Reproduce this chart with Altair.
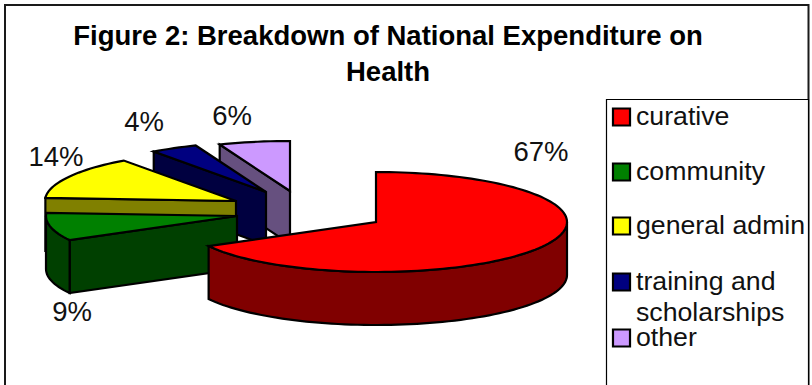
import math
import altair as alt

# Expenditure shares, in clockwise order from twelve o'clock
categories = ["curative", "community", "general admin", "training and\nscholarships", "other"]
shares = [67, 9, 14, 4, 6]
percent_labels = ["67%", "9%", "14%", "4%", "6%"]
top_colors = ["#FF0000", "#008000", "#FFFF00", "#000080", "#CC99FF"]
side_colors = ["#800000", "#004000", "#808000", "#000040", "#66507F"]

# Pie drawing parameters (pixels)
CENTER = (376, 222)
RX, RY, DEPTH = 191, 50, 53
# Apex of each exploded slice, relative to the pie centre
PULL_X = [0, -139, -140, -110, -86]
PULL_Y = [0, -6, -21, -30, -31]
# Slices are painted from the back of the pie to the front
PAINT_ORDER = [4, 3, 2, 1, 0]


def rim(cx, cy, t0, t1, drop=0):
    """Points along the elliptical rim, t in degrees clockwise from the top."""
    n = max(2, int(abs(t1 - t0) / 2) + 1)
    pts = []
    for i in range(n + 1):
        t = math.radians(t0 + (t1 - t0) * i / n)
        pts.append([cx + RX * math.sin(t), cy - RY * math.cos(t) + drop])
    return pts


def poly(points, fill, slice_name, face):
    ring = points + [points[0]]
    return {
        "type": "Feature",
        "geometry": {"type": "Polygon", "coordinates": [ring]},
        "properties": {"fill": fill, "slice": slice_name, "face": face},
    }


total = sum(shares)
starts = [sum(shares[:i]) / total * 360 for i in range(len(shares))]
ends = [sum(shares[: i + 1]) / total * 360 for i in range(len(shares))]

features = []
for i in PAINT_ORDER:
    cx, cy = CENTER[0] + PULL_X[i], CENTER[1] + PULL_Y[i]
    t0, t1 = starts[i], ends[i]
    name = categories[i]
    # Radial cut face seen from the front
    if math.sin(math.radians(t0)) < -1e-6:
        a = rim(cx, cy, t0, t0 + 1e-6)[0]
        features.append(
            poly([[cx, cy], a, [a[0], a[1] + DEPTH], [cx, cy + DEPTH]], side_colors[i], name, "cut")
        )
    # Outer wall on the near half of the ellipse
    lo, hi = max(t0, 90), min(t1, 270)
    if hi > lo:
        upper = rim(cx, cy, lo, hi)
        lower = rim(cx, cy, lo, hi, DEPTH)
        features.append(poly(upper + lower[::-1], side_colors[i], name, "wall"))
    # Top face
    features.append(poly([[cx, cy]] + rim(cx, cy, t0, t1), top_colors[i], name, "top"))

W, H = 812, 385
FONT = "Liberation Sans"

frame = alt.Chart(alt.Data(values=[{"a": 0}])).mark_rect(
    fill="white", stroke="#1a1a1a", strokeWidth=2
).encode(x=alt.value(5), x2=alt.value(808.5), y=alt.value(5), y2=alt.value(400))

legend_box = alt.Chart(alt.Data(values=[{"a": 0}])).mark_rect(
    fill="white", stroke="black", strokeWidth=1.2
).encode(x=alt.value(606.5), x2=alt.value(808.5), y=alt.value(99.5), y2=alt.value(400))

pie = alt.Chart(alt.Data(values=features)).mark_geoshape(
    stroke="black", strokeWidth=2.2, strokeJoin="miter"
).encode(
    fill=alt.Fill("properties.fill:N", scale=None)
).project(type="identity", scale=1, translate=[0, 0])

label_x = [541, 72, 56, 144, 232]
label_y = [153, 313, 158, 123, 117]
labels = alt.Chart(
    alt.Data(values=[
        {"text": t, "x": x, "y": y} for t, x, y in zip(percent_labels, label_x, label_y)
    ])
).mark_text(font=FONT, fontSize=27.5, color="#111111", align="center", baseline="middle").encode(
    x=alt.X("x:Q", scale=None), y=alt.Y("y:Q", scale=None), text="text:N"
)

title_lines = ["Figure 2: Breakdown of National Expenditure on", "Health"]
title = alt.Chart(
    alt.Data(values=[{"text": t, "y": y} for t, y in zip(title_lines, [37, 73])])
).mark_text(font=FONT, fontSize=27.5, fontWeight="bold", color="black", align="center", baseline="middle").encode(
    x=alt.value(388), y=alt.Y("y:Q", scale=None), text="text:N"
)

legend_y = [117, 172, 226, 282, 338]
legend_rows = [
    {"name": n, "fill": c, "y": y} for n, c, y in zip(categories, top_colors, legend_y)
]
swatches = alt.Chart(alt.Data(values=legend_rows)).mark_point(
    shape="square", size=290, filled=True, stroke="black", strokeWidth=2.2, opacity=1
).encode(
    x=alt.value(621.5),
    y=alt.Y("y:Q", scale=None),
    fill=alt.Fill("fill:N", scale=None),
)
legend_text = alt.Chart(alt.Data(values=legend_rows)).mark_text(
    font=FONT, fontSize=26.7, color="#111111", align="left", baseline="middle", lineBreak="\n", lineHeight=31
).transform_calculate(first="split(datum.name, '\\n')").encode(
    x=alt.value(636),
    y=alt.Y("y:Q", scale=None),
    text=alt.Text("first:N"),
)

chart = alt.layer(frame, legend_box, pie, labels, title, swatches, legend_text).properties(
    width=W, height=H, padding=0, autosize=alt.AutoSizeParams(type="none"), background="white"
).configure_view(stroke=None)

chart.save("out.html", embed_options={"renderer": "svg", "actions": False})
